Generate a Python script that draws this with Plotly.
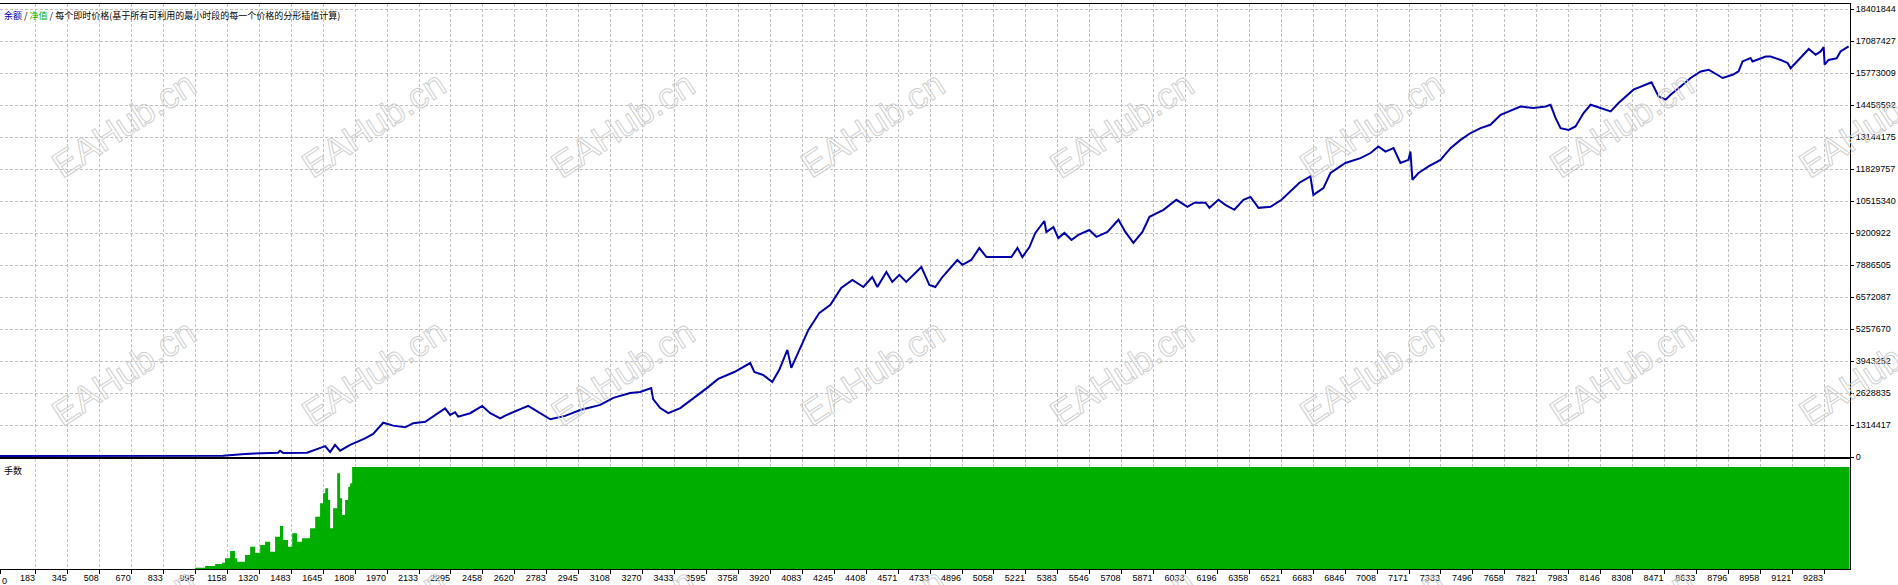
import plotly.graph_objects as go

# balance curve: trade number / balance (millions)
trades = [0, 1135, 1247, 1324, 1415, 1425, 1441, 1563, 1629, 1655, 1680, 1705, 1731, 1782, 1858, 1899,
          1950, 2001, 2062, 2103, 2164, 2204, 2265, 2291, 2316, 2332, 2393, 2454, 2495, 2546, 2571,
          2688, 2749, 2800, 2876, 2953,
          3055, 3121, 3207, 3258, 3314, 3324, 3360, 3401, 3462, 3533, 3599, 3655, 3737, 3818, 3839,
          3884, 3930, 3966, 4007, 4027, 4052, 4114, 4170, 4226, 4281, 4338, 4394, 4439, 4465, 4511,
          4541, 4577, 4612, 4689, 4730, 4760, 4796, 4872, 4898, 4943, 4984, 5020, 5076, 5147, 5178,
          5203, 5239, 5269, 5315, 5325, 5361, 5386, 5417, 5453, 5488, 5544, 5580, 5636, 5692, 5727,
          5768, 5814, 5850, 5921, 5987, 6043, 6079, 6135, 6155, 6201, 6236, 6282, 6328, 6364, 6405,
          6466, 6522, 6613,
          6669, 6684, 6735, 6771, 6847, 6924, 6975, 7015, 7051, 7092, 7127, 7168, 7178, 7188, 7219,
          7270, 7331, 7382, 7433, 7484, 7535, 7585, 7637, 7703, 7738, 7804, 7866, 7891, 7917, 7942,
          7983, 8018, 8059, 8095, 8146, 8197, 8237, 8273, 8313, 8405, 8441, 8477, 8502, 8553, 8604,
          8655, 8696, 8767, 8818, 8848, 8868, 8909, 8919, 8986, 9011, 9062, 9098, 9113, 9138, 9190,
          9205, 9240, 9266, 9281, 9286, 9306, 9347, 9367, 9408]
balance_m = [0.05, 0.06, 0.14, 0.16, 0.19, 0.27, 0.18, 0.19, 0.37, 0.46, 0.21, 0.51, 0.27, 0.51, 0.78, 0.96,
             1.42, 1.30, 1.23, 1.40, 1.46, 1.67, 2.01, 1.74, 1.85, 1.67, 1.81, 2.11, 1.81, 1.60, 1.71,
             2.11, 1.81, 1.56, 1.70, 1.94,
             2.15, 2.44, 2.64, 2.68, 2.84, 2.39, 2.02, 1.81, 2.02, 2.44, 2.85, 3.22, 3.50, 3.87, 3.50,
             3.38, 3.09, 3.59, 4.41, 3.67, 4.12, 5.23, 5.93, 6.26, 6.95, 7.28, 6.99, 7.40, 6.99, 7.61,
             7.20, 7.49, 7.20, 7.81, 7.07, 6.99, 7.40, 8.10, 7.90, 8.10, 8.59, 8.22, 8.22, 8.22, 8.59,
             8.22, 8.63, 9.21, 9.70, 9.25, 9.45, 9.00, 9.21, 8.92, 9.13, 9.33, 9.05, 9.25, 9.75, 9.25,
             8.80, 9.25, 9.87, 10.16, 10.57, 10.28, 10.45, 10.45, 10.24, 10.57, 10.36, 10.16, 10.57, 10.69, 10.24,
             10.28, 10.57, 11.27,
             11.53, 10.77, 11.05, 11.67, 12.08, 12.28, 12.49, 12.76, 12.55, 12.69, 12.08, 12.21, 12.55, 11.39, 11.67,
             11.94, 12.21, 12.69, 13.03, 13.31, 13.51, 13.65, 14.06, 14.27, 14.40, 14.34, 14.40, 14.47, 13.92, 13.51,
             13.44, 13.58, 14.13, 14.47, 14.34, 14.20, 14.54, 14.81, 15.09, 15.39, 14.81, 14.68, 14.88, 15.22, 15.57,
             15.84, 15.91, 15.57, 15.70, 15.84, 16.25, 16.39, 16.25, 16.45, 16.45, 16.31, 16.18, 15.97, 16.18, 16.59,
             16.76, 16.52, 16.66, 16.84, 16.12, 16.31, 16.38, 16.66, 16.87]

# lot size panel
lot_trades = [0, 993, 1044, 1095, 1130, 1145, 1171, 1196, 1207, 1247, 1273, 1298, 1324, 1349, 1375, 1400,
              1425, 1441, 1466, 1487, 1512, 1537, 1578, 1604, 1629, 1644, 1655, 1670, 1680, 1695, 1716,
              1731, 1741, 1756, 1772, 1782, 1792, 9413]
lots = [0, 1.3, 2.9, 4.9, 6.2, 10.5, 17.6, 10.5, 7.2, 13.7, 21.9, 16.0, 23.5, 26.8, 17.0, 31.7,
        42.1, 28.4, 21.9, 35.0, 26.8, 30.1, 39.9, 51.3, 64.4, 74.2, 79.1, 67.6, 39.9, 59.5, 93.8,
        69.3, 52.9, 67.6, 80.7, 84.0, 100, 100]

y_tick_labels = [0, 1314417, 2628835, 3943252, 5257670, 6572087, 7886505, 9200922, 10515340,
                 11829757, 13144175, 14458592, 15773009, 17087427, 18401844]
x_tick_labels = [0, 183, 345, 508, 670, 833, 995, 1158, 1320, 1483, 1645, 1808, 1970, 2133, 2295,
                 2458, 2620, 2783, 2945, 3108, 3270, 3433, 3595, 3758, 3920, 4083, 4245, 4408, 4571,
                 4733, 4896, 5058, 5221, 5383, 5546, 5708, 5871, 6033, 6196, 6358, 6521, 6683, 6846,
                 7008, 7171, 7333, 7496, 7658, 7821, 7983, 8146, 8308, 8471, 8633, 8796, 8958, 9121, 9283]

W, H = 1898, 585
grid = dict(showgrid=True, gridcolor="#c0c0c0", griddash="3px,2px", gridwidth=1)
num_font = dict(family="Liberation Sans, Arial", size=9, color="black")

fig = go.Figure()
fig.add_trace(go.Scatter(x=trades, y=[b * 1e6 for b in balance_m], mode="lines",
                         line=dict(color="#0000AA", width=2), xaxis="x", yaxis="y"))
fig.add_trace(go.Scatter(x=lot_trades, y=lots, mode="lines", line=dict(width=0, shape="hv"),
                         fill="tozeroy", fillcolor="#00AE00", xaxis="x2", yaxis="y2"))

xr = [0, 9415]
fig.update_layout(
    width=W, height=H, showlegend=False,
    paper_bgcolor="white", plot_bgcolor="white",
    margin=dict(l=0, r=0, t=4, b=16),
    xaxis=dict(domain=[0, 1850 / W], range=xr, anchor="y", tickvals=x_tick_labels,
               showticklabels=False, ticks="", showline=True, mirror=True,
               linecolor="black", linewidth=1, zeroline=False, **grid),
    yaxis=dict(domain=[(569 - 457.3) / 565, 1], range=[0, 18607000], side="right",
               anchor="x", tickvals=y_tick_labels, ticktext=[str(v) for v in y_tick_labels],
               ticks="outside", ticklen=3, tickcolor="black", tickfont=num_font,
               showline=True, mirror=True, linecolor="black", linewidth=1,
               zeroline=False, automargin=False, **grid),
    xaxis2=dict(domain=[0, 1850 / W], range=xr, anchor="y2", tickvals=x_tick_labels,
                ticktext=[str(v) for v in x_tick_labels], ticks="outside", ticklen=4,
                tickcolor="black", tickfont=num_font, ticklabelposition="outside left",
                showline=True, mirror=True, linecolor="black", linewidth=1,
                zeroline=False, automargin=False, **grid),
    yaxis2=dict(domain=[0, (569 - 459.3) / 565], range=[0, 107.5], anchor="x2",
                showticklabels=False, ticks="", showgrid=False, showline=True, mirror=True,
                linecolor="black", linewidth=1, zeroline=False),
)

header = ("<span style='color:#0000AA'>余额</span> / <span style='color:#00B000'>净值</span>"
          " / 每个即时价格(基于所有可利用的最小时段的每一个价格的分形插值计算)")
fig.add_annotation(text=header, xref="paper", yref="paper", x=0, y=1, xanchor="left",
                   yanchor="top", xshift=2, yshift=-3, showarrow=False,
                   font=dict(family="Noto Sans CJK SC", size=9, color="black"))
fig.add_annotation(text="手数", xref="paper", yref="paper", x=0, y=(569 - 459.3) / 565,
                   xanchor="left", yanchor="top", xshift=2, yshift=-3, showarrow=False,
                   font=dict(family="Noto Sans CJK SC", size=9, color="black"))
# first x label sits on the left border, so plotly drops it; put it back by hand
fig.add_annotation(text=str(x_tick_labels[0]), xref="paper", yref="paper", x=0, y=0,
                   xanchor="left", yanchor="top", yshift=-5, showarrow=False, font=num_font)

# watermark
for row_y in (125, 373, 621):
    for k in range(8):
        cx = 124 + 249.6 * k
        fig.add_annotation(
            text="<span style='fill:none;stroke:#cfcfcf;stroke-width:1px'>EAHub.cn</span>",
            xref="paper", yref="paper", x=cx / W, y=(569 - row_y) / 565,
            xanchor="center", yanchor="middle", textangle=-33, showarrow=False,
            font=dict(family="Liberation Sans, Arial", size=36, color="#cfcfcf"))

fig.write_html("out.html", config={"displayModeBar": False},
               post_script="document.body.style.margin='0';document.body.style.overflow='hidden';")
